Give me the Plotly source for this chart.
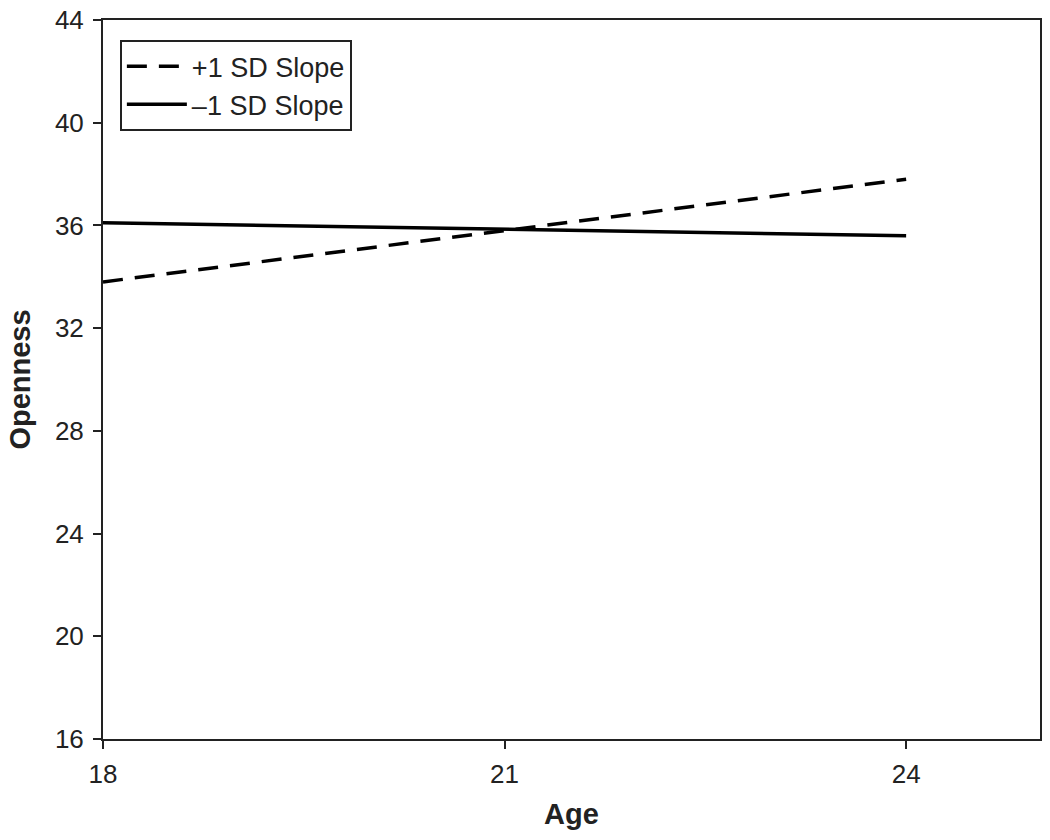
import plotly.graph_objects as go

ages = [18, 24]
plus_sd = [33.8, 37.8]
minus_sd = [36.1, 35.6]
series_names = ["+1 SD Slope", "\u20131 SD Slope"]
y_ticks = [16, 20, 24, 28, 32, 36, 40, 44]
x_ticks = [18, 21, 24]

font_family = "Liberation Sans, Arial, sans-serif"

fig = go.Figure()
fig.add_trace(go.Scatter(x=ages, y=plus_sd, mode="lines", name=series_names[0],
                         line=dict(color="black", width=3.5, dash="20px,12px")))
fig.add_trace(go.Scatter(x=ages, y=minus_sd, mode="lines", name=series_names[1],
                         line=dict(color="black", width=3.5)))

fig.update_layout(
    width=1050, height=840,
    margin=dict(l=103, r=10, t=20, b=101),
    plot_bgcolor="white", paper_bgcolor="white",
    font=dict(family=font_family, color="#222", size=26),
    showlegend=True,
    legend=dict(x=0.018, y=0.972, xanchor="left", yanchor="top",
                bordercolor="#222", borderwidth=2, bgcolor="white",
                font=dict(size=27, family=font_family), itemwidth=60,
                tracegroupgap=0),
)
fig.update_xaxes(range=[18, 25], tickvals=x_ticks, ticks="outside", ticklen=8, tickwidth=2,
                 tickcolor="#222", showline=True, linecolor="#222", linewidth=2, mirror=True,
                 showgrid=False, zeroline=False, tickfont=dict(size=26), automargin=False,
                 ticklabelstandoff=3, ticklabeloverflow="allow",
                 title=dict(text="<b>Age</b>", font=dict(size=29)))
fig.update_yaxes(range=[16, 44], tickvals=y_ticks, ticks="outside", ticklen=8, tickwidth=2,
                 tickcolor="#222", showline=True, linecolor="#222", linewidth=2, mirror=True,
                 showgrid=False, zeroline=False, tickfont=dict(size=26), automargin="left",
                 ticklabelstandoff=4, ticklabeloverflow="allow",
                 title=dict(text="<b>Openness</b>", font=dict(size=29), standoff=16))

fig.write_html("out.html", config={"displayModeBar": False},
               post_script="document.body.style.margin='0';")
